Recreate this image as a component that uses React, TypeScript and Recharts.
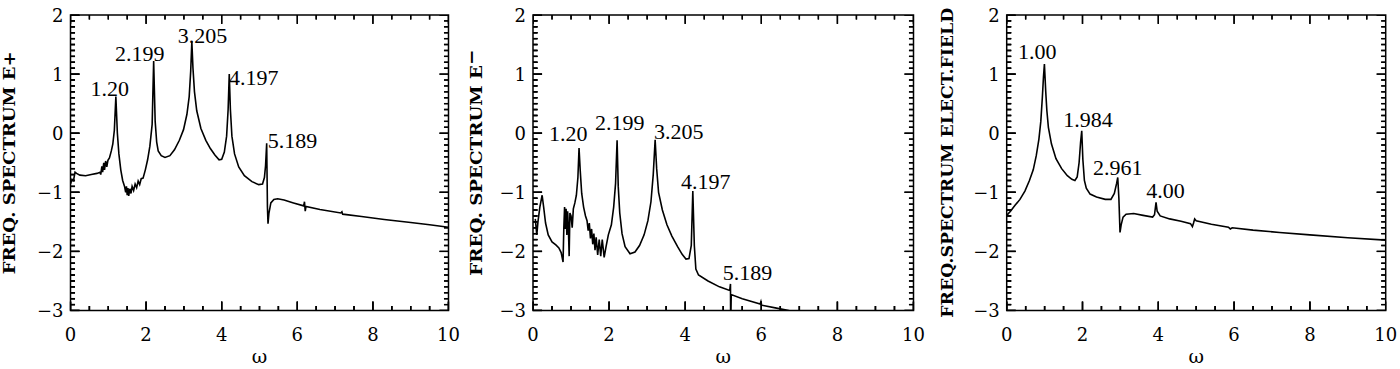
import React from 'react';
import { ComposedChart, Line, Scatter, XAxis, YAxis, ReferenceArea } from 'recharts';

// axis ticks: majors are labelled, the rest are minor marks
const X_TICKS = [0, 0.5, 1, 1.5, 2, 2.5, 3, 3.5, 4, 4.5, 5, 5.5, 6, 6.5, 7, 7.5, 8, 8.5, 9, 9.5, 10];
const Y_TICKS = [
  -3, -2.9, -2.8, -2.7, -2.6, -2.5, -2.4, -2.3, -2.2, -2.1,
  -2, -1.9, -1.8, -1.7, -1.6, -1.5, -1.4, -1.3, -1.2, -1.1,
  -1, -0.9, -0.8, -0.7, -0.6, -0.5, -0.4, -0.3, -0.2, -0.1,
  0, 0.1, 0.2, 0.3, 0.4, 0.5, 0.6, 0.7, 0.8, 0.9,
  1, 1.1, 1.2, 1.3, 1.4, 1.5, 1.6, 1.7, 1.8, 1.9, 2,
];

// [omega, log spectrum]
const E_PLUS = [
  [0.0, -0.86], [0.04, -0.78], [0.08, -0.8], [0.12, -0.66], [0.16, -0.68], [0.25, -0.71], [0.4, -0.72],
  [0.55, -0.7], [0.7, -0.68], [0.78, -0.66], [0.8, -0.7], [0.83, -0.56], [0.85, -0.66], [0.88, -0.5],
  [0.9, -0.62], [0.93, -0.47], [0.96, -0.57], [0.99, -0.46], [1.03, -0.42], [1.08, -0.3], [1.12, -0.18],
  [1.16, 0.05], [1.2, 0.62], [1.24, 0.0], [1.28, -0.35], [1.33, -0.62], [1.38, -0.8], [1.43, -0.9],
  [1.46, -1.0], [1.48, -0.9], [1.5, -1.05], [1.52, -0.93], [1.54, -1.06], [1.57, -0.94], [1.6, -1.02],
  [1.63, -0.9], [1.67, -0.97], [1.71, -0.86], [1.75, -0.92], [1.79, -0.81], [1.83, -0.87], [1.87, -0.77],
  [1.92, -0.76], [1.98, -0.62], [2.04, -0.45], [2.1, -0.22], [2.16, 0.15], [2.2, 1.22], [2.24, 0.2],
  [2.28, -0.15], [2.32, -0.3], [2.4, -0.38], [2.5, -0.41], [2.63, -0.38], [2.75, -0.28], [2.88, -0.12],
  [2.99, 0.06], [3.08, 0.32], [3.14, 0.62], [3.18, 1.05], [3.21, 1.55], [3.24, 1.1], [3.28, 0.7],
  [3.34, 0.38], [3.45, 0.08], [3.58, -0.12], [3.7, -0.26], [3.82, -0.37], [3.93, -0.45], [4.0, -0.44],
  [4.07, -0.32], [4.13, -0.05], [4.17, 0.4], [4.2, 1.0], [4.23, 0.4], [4.27, -0.05], [4.34, -0.35],
  [4.45, -0.57], [4.6, -0.72], [4.8, -0.82], [4.98, -0.87], [5.08, -0.86], [5.13, -0.75], [5.16, -0.55],
  [5.19, -0.17], [5.21, -1.25], [5.225, -1.53], [5.25, -1.35], [5.3, -1.18], [5.38, -1.12], [5.48, -1.11],
  [5.65, -1.13], [5.9, -1.18], [6.17, -1.23], [6.19, -1.16], [6.21, -1.32], [6.23, -1.24], [6.6, -1.29],
  [7.15, -1.35], [7.18, -1.33], [7.2, -1.37], [7.7, -1.41], [8.3, -1.46], [9.0, -1.51], [9.5, -1.55],
  [10.0, -1.59],
];

const E_MINUS = [
  [0.06, -1.45], [0.1, -1.72], [0.13, -1.5], [0.18, -1.25], [0.24, -1.05], [0.28, -1.25], [0.33, -1.52],
  [0.4, -1.72], [0.5, -1.84], [0.6, -1.89], [0.68, -1.94], [0.74, -2.02], [0.79, -2.18], [0.81, -1.6],
  [0.83, -1.25], [0.85, -1.62], [0.87, -1.28], [0.89, -1.72], [0.91, -1.32], [0.93, -1.6], [0.95, -2.08],
  [0.97, -1.35], [1.0, -1.4], [1.03, -1.6], [1.06, -1.28], [1.1, -1.18], [1.14, -1.05], [1.18, -0.75],
  [1.21, -0.25], [1.24, -0.62], [1.28, -1.02], [1.33, -1.25], [1.38, -1.4], [1.42, -1.48], [1.45, -1.65],
  [1.48, -1.52], [1.51, -1.78], [1.54, -1.62], [1.57, -1.88], [1.6, -1.7], [1.63, -1.98], [1.66, -1.76],
  [1.7, -2.06], [1.74, -1.8], [1.78, -2.08], [1.82, -1.8], [1.87, -2.1], [1.92, -1.92], [1.98, -1.72],
  [2.06, -1.55], [2.12, -1.25], [2.17, -0.85], [2.21, -0.12], [2.24, -0.9], [2.28, -1.35], [2.34, -1.7],
  [2.42, -1.92], [2.55, -2.04], [2.68, -2.01], [2.8, -1.9], [2.92, -1.72], [3.02, -1.48], [3.1, -1.16],
  [3.16, -0.7], [3.21, -0.11], [3.25, -0.6], [3.3, -1.0], [3.4, -1.3], [3.52, -1.55], [3.65, -1.74],
  [3.8, -1.92], [3.92, -2.05], [4.02, -2.13], [4.1, -2.12], [4.16, -1.9], [4.2, -0.98], [4.24, -1.9],
  [4.28, -2.3], [4.35, -2.4], [4.6, -2.5], [4.9, -2.6], [5.17, -2.66], [5.19, -2.55], [5.195, -3.3],
  [5.21, -2.73], [5.5, -2.8], [5.97, -2.89], [5.99, -2.85], [6.01, -2.91], [6.4, -2.96], [6.72, -3.0],
  [7.5, -3.18], [10.0, -3.7],
];

const E_FIELD = [
  [0.0, -1.39], [0.1, -1.32], [0.22, -1.22], [0.35, -1.12], [0.48, -0.98], [0.6, -0.8], [0.7, -0.62],
  [0.78, -0.38], [0.85, -0.1], [0.9, 0.2], [0.94, 0.6], [0.97, 0.95], [0.995, 1.17], [1.03, 0.7],
  [1.06, 0.38], [1.1, 0.1], [1.18, -0.18], [1.3, -0.43], [1.45, -0.6], [1.6, -0.72], [1.72, -0.78],
  [1.8, -0.8], [1.86, -0.74], [1.91, -0.5], [1.95, -0.15], [1.98, 0.04], [2.01, -0.45], [2.05, -0.8],
  [2.1, -0.93], [2.2, -1.03], [2.37, -1.08], [2.6, -1.12], [2.75, -1.12], [2.84, -1.02], [2.9, -0.85],
  [2.93, -0.75], [2.96, -1.1], [2.99, -1.68], [3.02, -1.55], [3.07, -1.42], [3.15, -1.37], [3.35, -1.36],
  [3.6, -1.39], [3.85, -1.42], [3.9, -1.38], [3.94, -1.17], [3.97, -1.32], [4.05, -1.4], [4.3, -1.45],
  [4.6, -1.49], [4.85, -1.53], [4.9, -1.58], [4.93, -1.52], [4.96, -1.45], [5.0, -1.48], [5.4, -1.54],
  [5.85, -1.59], [5.9, -1.62], [5.95, -1.6], [6.5, -1.64], [7.2, -1.68], [8.0, -1.72], [9.0, -1.77],
  [10.0, -1.81],
];

// peak annotations: where each label's text starts (omega, value)
const E_PLUS_PEAKS = [
  { w: 0.53, v: 0.63, text: '1.20' },
  { w: 1.18, v: 1.22, text: '2.199' },
  { w: 2.84, v: 1.52, text: '3.205' },
  { w: 4.19, v: 0.82, text: '4.197' },
  { w: 5.22, v: -0.25, text: '5.189' },
];
const E_MINUS_PEAKS = [
  { w: 0.42, v: -0.13, text: '1.20' },
  { w: 1.63, v: 0.05, text: '2.199' },
  { w: 3.18, v: -0.09, text: '3.205' },
  { w: 3.89, v: -0.94, text: '4.197' },
  { w: 4.99, v: -2.48, text: '5.189' },
];
const E_FIELD_PEAKS = [
  { w: 0.3, v: 1.25, text: '1.00' },
  { w: 1.49, v: 0.11, text: '1.984' },
  { w: 2.28, v: -0.71, text: '2.961' },
  { w: 3.68, v: -1.09, text: '4.00' },
];

const FONT = "'DejaVu Serif', 'Liberation Serif', serif";
const PEAK_FONT = "'Liberation Serif', 'DejaVu Serif', serif";
const MAJ = 9;
const MIN = 4.5;
const TW = 1.4;

const isMult = (v: number, step: number) => Math.abs(v - Math.round(v / step) * step) < 1e-6;
const fmt = (v: number) => String(Math.round(v)).replace('-', '\u2212');

// inward tick marks, as broken line segments in axis units (about 9px major, 4.5px minor)
const TICK_Y_LEN = 0.15;
const TICK_X_LEN = 0.24;
const bottomMarks = X_TICKS.flatMap((w) => {
  const d = isMult(w, 2) ? TICK_Y_LEN : TICK_Y_LEN / 2;
  return [{ w, v: -3 }, { w, v: -3 + d }, { w, v: null }];
});
const topMarks = X_TICKS.flatMap((w) => {
  const d = isMult(w, 2) ? TICK_Y_LEN : TICK_Y_LEN / 2;
  return [{ w, v: 2 }, { w, v: 2 - d }, { w, v: null }];
});
const leftMarks = Y_TICKS.flatMap((v) => {
  const d = isMult(v, 1) ? TICK_X_LEN : TICK_X_LEN / 2;
  return [{ w: 0, v }, { w: d, v }, { w: d, v: null }];
});
const rightMarks = Y_TICKS.flatMap((v) => {
  const d = isMult(v, 1) ? TICK_X_LEN : TICK_X_LEN / 2;
  return [{ w: 10, v }, { w: 10 - d, v }, { w: 10 - d, v: null }];
});
const TICK_SETS = [bottomMarks, topMarks, leftMarks, rightMarks];

// the same marks as points, for the scatter overlay
const MARK_POINTS = [
  ...X_TICKS.map((w) => ({ w, v: -3, side: 'b', major: isMult(w, 2) })),
  ...X_TICKS.map((w) => ({ w, v: 2, side: 't', major: isMult(w, 2) })),
  ...Y_TICKS.map((v) => ({ w: 0, v, side: 'l', major: isMult(v, 1) })),
  ...Y_TICKS.map((v) => ({ w: 10, v, side: 'r', major: isMult(v, 1) })),
];

const markRect = (side: string, major: boolean, cx: number, cy: number) => {
  const len = major ? MAJ : MIN;
  const h = TW / 2;
  if (side === 'b') return <rect x={cx - h} y={cy - len} width={TW} height={len} fill="#000" />;
  if (side === 't') return <rect x={cx - h} y={cy} width={TW} height={len} fill="#000" />;
  if (side === 'l') return <rect x={cx} y={cy - h} width={len} height={TW} fill="#000" />;
  return <rect x={cx - len} y={cy - h} width={len} height={TW} fill="#000" />;
};

const MarkOrLabel = (p: any) => {
  const item = p.payload;
  if (item.text) {
    return (
      <text x={p.cx} y={p.cy} fontFamily={PEAK_FONT} fontSize={22} fill="#000">
        {item.text}
      </text>
    );
  }
  return markRect(item.side, item.major, p.cx, p.cy);
};

const BottomTick = (p: any) => {
  const v = p.payload.value;
  const major = isMult(v, 2);
  return (
    <g>
      {markRect('b', major, p.x, p.y)}
      {major && (
        <text x={p.x} y={p.y + 30} textAnchor="middle" fontFamily={FONT} fontSize={18} fill="#000">
          {fmt(v)}
        </text>
      )}
    </g>
  );
};

const LeftTick = (p: any) => {
  const v = p.payload.value;
  const major = isMult(v, 1);
  return (
    <g>
      {markRect('l', major, p.x, p.y)}
      {major && (
        <text x={p.x - 7} y={p.y + 6.5} textAnchor="end" fontFamily={FONT} fontSize={18} fill="#000">
          {fmt(v)}
        </text>
      )}
    </g>
  );
};

type PanelProps = {
  left: number;
  width: number;
  plotLeft: number;
  plotRight: number;
  series: number[][];
  peaks: { w: number; v: number; text: string }[];
  yLabel: React.ReactNode;
  labelX: number;
  labelLen: number;
};

const Panel = ({ left, width, plotLeft, plotRight, series, peaks, yLabel, labelX, labelLen }: PanelProps) => {
  const data = series.map(([w, v]) => ({ w, v }));
  const midX = (plotLeft + plotRight) / 2;
  const overlay = [...MARK_POINTS, ...peaks];
  return (
    <div style={{ position: 'absolute', left, top: 0 }}>
      <ComposedChart
        width={width}
        height={369}
        margin={{ top: 15, right: width - plotRight, bottom: 0, left: 0 }}
      >
        <XAxis
          xAxisId="b"
          dataKey="w"
          type="number"
          domain={[0, 10]}
          allowDataOverflow
          ticks={X_TICKS}
          interval={0}
          height={58.5}
          tickSize={0}
          tickMargin={0}
          tickLine={false}
          axisLine={false}
          tick={BottomTick}
          label={() => (
            <text x={midX} y={363} textAnchor="middle" fontFamily={FONT} fontSize={19} fill="#000">
              ω
            </text>
          )}
        />
        <YAxis
          yAxisId="l"
          type="number"
          domain={[-3, 2]}
          allowDataOverflow
          ticks={Y_TICKS}
          interval={0}
          width={plotLeft}
          tickSize={0}
          tickMargin={0}
          tickLine={false}
          axisLine={false}
          tick={LeftTick}
          label={() => (
            <text
              x={labelX}
              y={162.75}
              transform={`rotate(-90 ${labelX} 162.75)`}
              textAnchor="middle"
              fontFamily={FONT}
              fontWeight="bold"
              fontSize={17}
              textLength={labelLen}
              lengthAdjust="spacingAndGlyphs"
              fill="#000"
            >
              {yLabel}
            </text>
          )}
        />
        <ReferenceArea
          xAxisId="b"
          yAxisId="l"
          x1={0}
          x2={10}
          y1={-3}
          y2={2}
          fill="none"
          stroke="#000"
          strokeWidth={1.5}
          ifOverflow="visible"
        />
        {TICK_SETS.map((marks, i) => (
          <Line
            key={`ticks-${i}`}
            xAxisId="b"
            yAxisId="l"
            data={marks}
            dataKey="v"
            type="linear"
            stroke="#000"
            strokeWidth={TW}
            dot={false}
            connectNulls={false}
            isAnimationActive={false}
          />
        ))}
        <Line
          xAxisId="b"
          yAxisId="l"
          data={data}
          dataKey="v"
          type="linear"
          stroke="#000"
          strokeWidth={1.6}
          dot={false}
          isAnimationActive={false}
        />
        <Scatter xAxisId="b" yAxisId="l" data={overlay} dataKey="v" shape={MarkOrLabel} isAnimationActive={false} />
      </ComposedChart>
    </div>
  );
};

export default function App() {
  return (
    <div style={{ position: 'absolute', left: 0, top: 0, width: 1400, height: 369, background: '#fff' }}>
      <Panel
        left={0}
        width={462}
        plotLeft={70.5}
        plotRight={448.5}
        series={E_PLUS}
        peaks={E_PLUS_PEAKS}
        yLabel="FREQ. SPECTRUM E+"
        labelX={15}
        labelLen={223}
      />
      <Panel
        left={462}
        width={466}
        plotLeft={71}
        plotRight={451.5}
        series={E_MINUS}
        peaks={E_MINUS_PEAKS}
        yLabel={
          <>
            FREQ. SPECTRUM E<tspan dy={-5}>−</tspan>
          </>
        }
        labelX={19.5}
        labelLen={226}
      />
      <Panel
        left={928}
        width={472}
        plotLeft={78.7}
        plotRight={457.7}
        series={E_FIELD}
        peaks={E_FIELD_PEAKS}
        yLabel="FREQ.SPECTRUM ELECT.FIELD"
        labelX={25}
        labelLen={310}
      />
    </div>
  );
}
